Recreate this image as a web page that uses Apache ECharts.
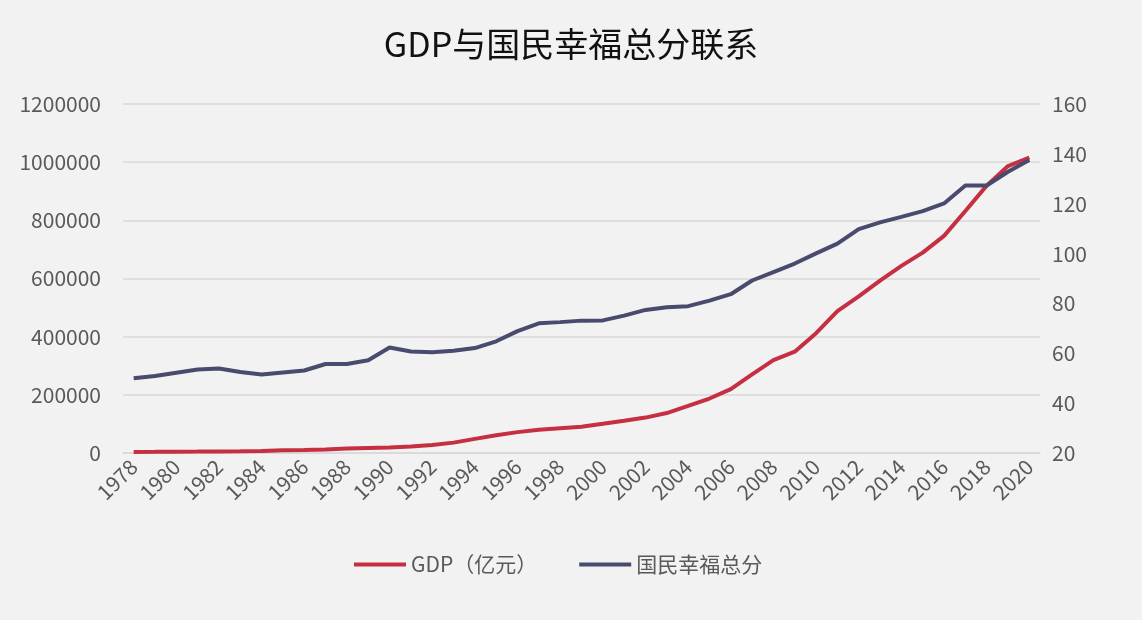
<!DOCTYPE html>
<html>
<head>
<meta charset="utf-8">
<script src="https://cdn.jsdelivr.net/npm/echarts@6/dist/echarts.min.js"></script>
<style>
html,body{margin:0;padding:0;background:#F2F2F2;}
#c{width:1142px;height:620px;}
</style>
</head>
<body>
<div id="c"></div>
<script>
const years = ['1978','1979','1980','1981','1982','1983','1984','1985','1986','1987','1988','1989','1990','1991','1992','1993','1994','1995','1996','1997','1998','1999','2000','2001','2002','2003','2004','2005','2006','2007','2008','2009','2010','2011','2012','2013','2014','2015','2016','2017','2018','2019','2020'];
const gdp = [3679,4101,4588,4936,5373,6021,7279,9099,10376,12175,15180,17180,18873,22006,27195,35673,48638,61340,71814,79715,85196,90564,100280,110863,121717,137422,161840,187319,219439,270092,319245,348518,412119,487940,538580,592963,643563,688858,746395,832036,919281,986515,1015986];
const happiness = [50.0,50.9,52.2,53.5,53.9,52.5,51.5,52.3,53.1,55.7,55.7,57.2,62.3,60.7,60.4,61.0,62.1,64.8,68.9,72.0,72.5,73.1,73.2,75.1,77.4,78.5,78.9,81.1,83.7,89.2,92.6,96.0,100.1,104.0,109.8,112.5,114.7,117.0,120.1,127.3,127.3,132.8,137.5];
const seriesNames = ['GDP（亿元）','国民幸福总分'];

const chart = echarts.init(document.getElementById('c'));
const font = '"Noto Sans CJK SC","Noto Sans",sans-serif';
chart.setOption({
  backgroundColor:'#F2F2F2',
  animation:false,
  title:{
    text:'GDP与国民幸福总分联系',
    left:'center', top:22,
    textStyle:{fontFamily:font,fontSize:34,fontWeight:'normal',color:'#111111'}
  },
  legend:{
    bottom:40, left:349, itemWidth:52, itemHeight:4, itemGap:42,
    icon:'rect',
    textStyle:{fontFamily:font,fontSize:21,color:'#595959'},
    data:seriesNames
  },
  grid:{left:123,right:102,top:104,bottom:167},
  xAxis:{
    type:'category', data:years, boundaryGap:true,
    axisLine:{lineStyle:{color:'#D9D9D9',width:1.5}},
    axisTick:{show:false},
    axisLabel:{interval:1,rotate:45,fontFamily:font,fontSize:21,color:'#595959',margin:10}
  },
  yAxis:[
    {type:'value',min:0,max:1200000,interval:200000,
     axisLine:{show:false},axisTick:{show:false},
     splitLine:{lineStyle:{color:'#D9D9D9',width:1.5}},
     axisLabel:{fontFamily:font,fontSize:21,color:'#595959',margin:22,formatter:function(v){return String(v);}}},
    {type:'value',min:20,max:160,interval:20,
     axisLine:{show:false},axisTick:{show:false},splitLine:{show:false},
     axisLabel:{fontFamily:font,fontSize:21,color:'#595959',margin:12}}
  ],
  series:[
    {name:seriesNames[0],type:'line',data:gdp,yAxisIndex:0,symbol:'none',
     lineStyle:{color:'#C62F42',width:4},itemStyle:{color:'#C62F42'}},
    {name:seriesNames[1],type:'line',data:happiness,yAxisIndex:1,symbol:'none',
     lineStyle:{color:'#484B6E',width:4},itemStyle:{color:'#484B6E'}}
  ]
});
</script>
</body>
</html>
